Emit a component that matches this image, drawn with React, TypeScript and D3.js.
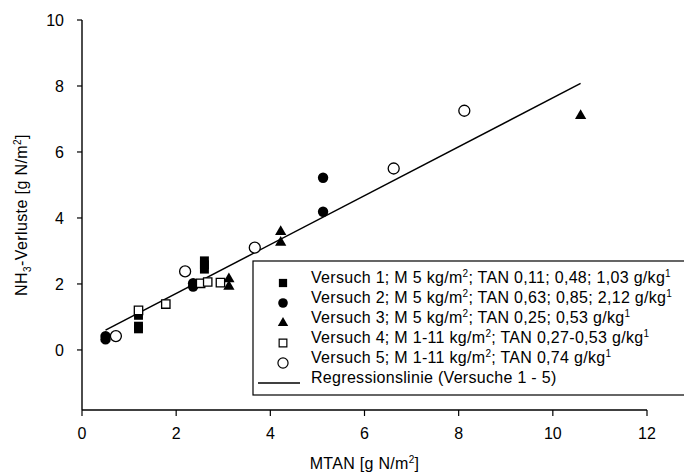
import React from "react";
import * as d3 from "d3";

// data: [MTAN, NH3-Verluste]
const versuch1 = [[1.2, 1.05], [1.2, 0.72], [1.2, 0.64], [2.6, 2.45], [2.6, 2.58], [2.6, 2.7]];
const versuch2 = [[0.5, 0.32], [0.5, 0.42], [2.36, 1.92], [2.36, 2.02], [5.12, 5.22], [5.12, 4.19]];
const versuch3 = [[3.12, 2.15], [3.12, 1.92], [4.22, 3.58], [4.22, 3.26], [10.59, 7.1]];
const versuch4 = [[1.2, 1.2], [1.78, 1.39], [2.52, 2.02], [2.67, 2.06], [2.94, 2.04]];
const versuch5 = [[0.72, 0.42], [2.19, 2.38], [3.67, 3.1], [6.62, 5.5], [8.12, 7.25]];
const regression = [[0.5, 0.6], [10.59, 8.08]];

const xTicks = [0, 2, 4, 6, 8, 10, 12];
const yTicks = [0, 2, 4, 6, 8, 10];

// legend labels: [text, superscript] pairs
const legendLabels = [
  [["Versuch 1; M 5 kg/m", "2"], ["; TAN 0,11; 0,48; 1,03 g/kg", "1"]],
  [["Versuch 2; M 5 kg/m", "2"], ["; TAN 0,63; 0,85; 2,12 g/kg", "1"]],
  [["Versuch 3; M 5 kg/m", "2"], ["; TAN 0,25; 0,53 g/kg", "1"]],
  [["Versuch 4; M 1-11 kg/m", "2"], ["; TAN 0,27-0,53 g/kg", "1"]],
  [["Versuch 5; M 1-11 kg/m", "2"], ["; TAN 0,74 g/kg", "1"]],
  [["Regressionslinie (Versuche 1 - 5)", ""]],
];

const W = 684;
const H = 472;
const FONT = "Liberation Sans, Arial, Helvetica, sans-serif";

const series = [
  { data: versuch1, type: d3.symbolSquare, size: 80, fill: "#000" },
  { data: versuch2, type: d3.symbolCircle, size: 85, fill: "#000" },
  { data: versuch3, type: d3.symbolTriangle, size: 55, fill: "#000" },
  { data: versuch4, type: d3.symbolSquare, size: 70, fill: "#fff" },
  { data: versuch5, type: d3.symbolCircle, size: 95, fill: "#fff" },
];

export default function App() {
  const x = d3.scaleLinear().domain([0, 12]).range([82, 647]);
  const y = d3.scaleLinear().domain([-1.82, 10]).range([410, 20]);
  const line = d3.line<number[]>().x(d => x(d[0])).y(d => y(d[1]));

  const legX = 253, legY = 261, legH = 134;

  return (
    <svg width={W} height={H} style={{ position: "absolute", left: 0, top: 0, background: "#fff" }} fontFamily={FONT}>
      {/* axes */}
      <line x1={x(0)} x2={x(0)} y1={y(10)} y2={y(-1.82)} stroke="#000" strokeWidth={1.4} />
      <line x1={x(0)} x2={x(12)} y1={y(-1.82)} y2={y(-1.82)} stroke="#000" strokeWidth={1.4} />
      {yTicks.map(t => (
        <g key={"y" + t}>
          <line x1={x(0) - 5} x2={x(0)} y1={y(t)} y2={y(t)} stroke="#000" strokeWidth={1.2} />
          <text x={64} y={y(t)} dy="0.36em" textAnchor="end" fontSize={16}>{t}</text>
        </g>
      ))}
      {xTicks.map(t => (
        <g key={"x" + t}>
          <line x1={x(t)} x2={x(t)} y1={y(-1.82)} y2={y(-1.82) + 6} stroke="#000" strokeWidth={1.2} />
          <text x={x(t)} y={439} textAnchor="middle" fontSize={16}>{t}</text>
        </g>
      ))}
      <text x={x(6)} y={469} textAnchor="middle" fontSize={16} letterSpacing={0.3}>
        MTAN [g N/m<tspan dy={-6} fontSize={10}>2</tspan><tspan dy={6}>]</tspan>
      </text>
      <text transform={`translate(27, 215) rotate(-90)`} textAnchor="middle" fontSize={16} letterSpacing={0.4}>
        NH<tspan dy={4} fontSize={10}>3</tspan><tspan dy={-4}>-Verluste [g N/m</tspan>
        <tspan dy={-6} fontSize={10}>2</tspan><tspan dy={6}>]</tspan>
      </text>

      {/* regression */}
      <path d={line(regression) || ""} fill="none" stroke="#000" strokeWidth={1.5} />

      {/* points */}
      {series.map((s, i) => (
        <g key={"s" + i}>
          {s.data.map((d, j) => (
            <path key={j} transform={`translate(${x(d[0])},${y(d[1])})`}
              d={d3.symbol().type(s.type).size(s.size)() || ""}
              fill={s.fill} stroke="#000" strokeWidth={s.fill === "#fff" ? 1.3 : 0} />
          ))}
        </g>
      ))}

      {/* legend */}
      <rect x={legX} y={legY} width={W - legX + 5} height={legH} fill="#fff" stroke="#000" strokeWidth={1.2} />
      {legendLabels.map((parts, i) => {
        const ry = 283 + i * 20;
        const s = series[i];
        return (
          <g key={"l" + i}>
            {s ? (
              <path transform={`translate(283,${ry})`}
                d={d3.symbol().type(s.type).size(s.size * 0.85)() || ""}
                fill={s.fill} stroke="#000" strokeWidth={s.fill === "#fff" ? 1.2 : 0} />
            ) : (
              <line x1={258} x2={300} y1={ry} y2={ry} stroke="#000" strokeWidth={1.5} />
            )}
            <text x={311} y={ry} dy="0.36em" fontSize={16} letterSpacing={0.3}>
              {parts.map((p, k) => (
                <React.Fragment key={k}>
                  <tspan dy={k === 0 ? 0 : 6}>{p[0]}</tspan>
                  {p[1] ? <tspan dy={-6} fontSize={10}>{p[1]}</tspan> : null}
                </React.Fragment>
              ))}
            </text>
          </g>
        );
      })}
    </svg>
  );
}
